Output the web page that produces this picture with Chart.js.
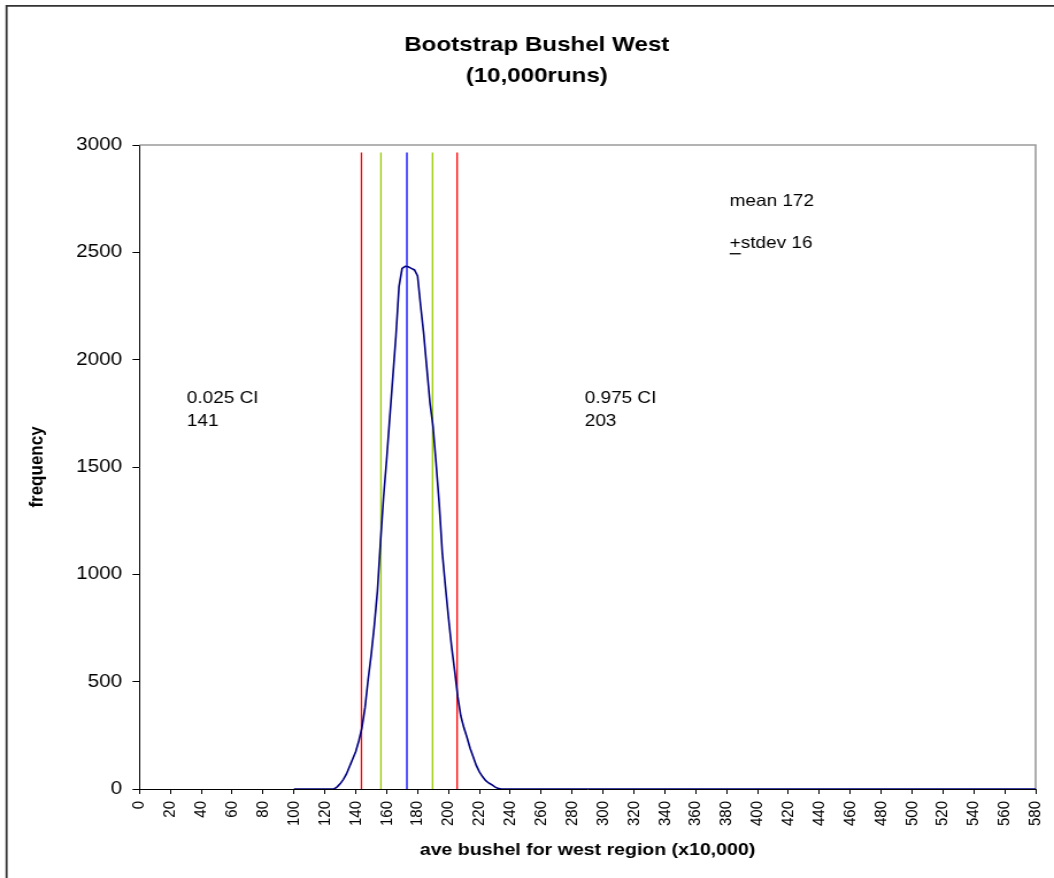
<!DOCTYPE html>
<html>
<head>
<meta charset="utf-8">
<title>Bootstrap Bushel West</title>
<script src="https://cdn.jsdelivr.net/npm/chart.js@4.4.1/dist/chart.umd.min.js"></script>
<style>
  html, body { margin: 0; padding: 0; background: #fff; overflow: hidden; }
  /* the source picture is stretched sideways, so the canvas is too */
  #wrap { width: 917px; height: 878px; transform: scaleX(1.1494); transform-origin: 0 0; }
</style>
</head>
<body>
<div id="wrap"><canvas id="chart" width="917" height="878" style="width:917px;height:878px"></canvas></div>
<script>
// Bootstrap-resultat
const binX = [100, 124, 126, 128, 130, 132, 134, 136, 138, 140, 142, 144, 146, 148, 150, 152, 154, 156, 158, 160,
  162, 164, 166, 168, 170, 172, 174, 176, 178, 180, 182, 184, 186, 188, 190, 192, 194, 196, 198, 200,
  202, 204, 206, 208, 210, 212, 214, 216, 218, 220, 222, 224, 226, 228, 230, 232, 234, 236, 580];
const freq = [0, 0, 0, 10, 25, 45, 70, 105, 140, 175, 225, 285, 380, 510, 625, 760, 920, 1150, 1360, 1535,
  1730, 1920, 2110, 2340, 2425, 2435, 2433, 2425, 2418, 2390, 2250, 2120, 1960, 1800, 1690, 1517, 1330, 1100, 945, 800,
  665, 550, 430, 340, 285, 240, 190, 150, 110, 80, 58, 40, 28, 20, 10, 3, 0, 0, 0];

// Lodräta linjer: 0.025 CI, -stdev, medel, +stdev, 0.975 CI
const markerX = [143.7, 156.3, 173.1, 189.7, 205.6];
const markerColors = ['#ff0000', '#99cc00', '#0000ff', '#99cc00', '#ff0000'];
const markerTop = 2965;

const yTicks = [0, 500, 1000, 1500, 2000, 2500, 3000];
const xTickStep = 20;

const titleLines = ['Bootstrap Bushel West', '(10,000runs)'];
const xTitle = 'ave bushel for west region (x10,000)';
const yTitle = 'frequency';

// Textrutor i diagrammet (i dataenheter)
const noteText = ['0.025 CI', '141', '0.975 CI', '203', 'mean 172', '+stdev 16'];
const noteAt = [[30.7, 1821], [30.7, 1714], [288.2, 1817], [288.2, 1710], [382, 2739], [382, 2543]];

const FONT = 'Arial, "Liberation Sans", sans-serif';

const decor = {
  id: 'decor',
  beforeDraw(chart) {
    const ctx = chart.ctx;
    ctx.save();
    ctx.fillStyle = '#fff';
    ctx.fillRect(0, 0, chart.width, chart.height);
    // yttre ram (fortsätter utanför bilden till höger och nedåt)
    ctx.strokeStyle = '#333';
    ctx.lineWidth = 1.8;
    ctx.beginPath();
    ctx.moveTo(5.7, chart.height);
    ctx.lineTo(5.7, 5.8);
    ctx.lineTo(chart.width, 5.8);
    ctx.stroke();
    ctx.restore();
  },
  beforeDatasetsDraw(chart) {
    const { ctx, chartArea: a } = chart;
    ctx.save();
    ctx.strokeStyle = '#9a9a9a';
    ctx.lineWidth = 1.6;
    ctx.beginPath();
    ctx.moveTo(a.left, a.top);
    ctx.lineTo(a.right, a.top);
    ctx.lineTo(a.right, a.bottom);
    ctx.stroke();
    ctx.restore();
  },
  afterDraw(chart) {
    const { ctx, scales: { x, y } } = chart;
    ctx.save();
    ctx.fillStyle = '#000';
    ctx.textAlign = 'center';
    ctx.textBaseline = 'alphabetic';
    ctx.font = 'bold 21px ' + FONT;
    ctx.fillText(titleLines[0], 467, 50.7);
    ctx.fillText(titleLines[1], 467, 81.7);

    ctx.textAlign = 'left';
    ctx.textBaseline = 'middle';
    ctx.font = '16.5px ' + FONT;
    noteText.forEach((t, i) => {
      const px = x.getPixelForValue(noteAt[i][0]);
      const py = y.getPixelForValue(noteAt[i][1]);
      ctx.fillText(t, px, py);
      if (t.startsWith('+')) {
        // understruket plus = ±
        const w = ctx.measureText('+').width;
        ctx.fillRect(px, py + 10, w, 1.3);
      }
    });
    ctx.restore();
  }
};

const datasets = [{
  data: binX.map((v, i) => ({ x: v, y: freq[i] })),
  borderColor: '#000080',
  borderWidth: 1.6,
  pointRadius: 0,
  tension: 0,
  fill: false
}];
markerX.forEach((v, i) => {
  datasets.push({
    data: [{ x: v, y: 0 }, { x: v, y: markerTop }],
    borderColor: markerColors[i],
    borderWidth: 1.3,
    pointRadius: 0,
    fill: false
  });
});

new Chart(document.getElementById('chart'), {
  type: 'line',
  data: { datasets },
  plugins: [decor],
  options: {
    responsive: false,
    animation: false,
    devicePixelRatio: 1,
    layout: { padding: { top: 145, right: 16, left: 0, bottom: 0 } },
    plugins: { legend: { display: false }, tooltip: { enabled: false }, title: { display: false } },
    scales: {
      x: {
        type: 'linear',
        min: 0,
        max: 580,
        afterFit: s => { s.height = 89; s.paddingLeft = 0; s.paddingRight = 0; },
        ticks: {
          stepSize: xTickStep,
          autoSkip: false,
          minRotation: 90,
          maxRotation: 90,
          padding: 7,
          color: '#000',
          font: { family: FONT, size: 15 },
          callback: v => String(v)
        },
        grid: { display: true, drawOnChartArea: false, drawTicks: true, tickLength: 5, color: '#000' },
        border: { display: true, color: '#000', width: 1 },
        title: {
          display: true,
          text: xTitle,
          color: '#000',
          font: { family: FONT, size: 17, weight: 'bold' },
          padding: { top: 0, bottom: 17 }
        }
      },
      y: {
        min: yTicks[0],
        max: yTicks[yTicks.length - 1],
        afterFit: s => { s.width = 121.3; s.paddingTop = 0; s.paddingBottom = 0; },
        afterBuildTicks: s => { s.ticks = yTicks.map(v => ({ value: v })); },
        ticks: {
          padding: 9,
          color: '#000',
          font: { family: FONT, size: 18 },
          callback: v => String(v)
        },
        grid: { display: true, drawOnChartArea: false, drawTicks: true, tickLength: 6, color: '#000' },
        border: { display: true, color: '#000', width: 1 },
        title: {
          display: true,
          text: yTitle,
          color: '#000',
          font: { family: FONT, size: 17, weight: 'bold' },
          padding: { top: 22, bottom: 0 }
        }
      }
    }
  }
});
</script>
</body>
</html>
